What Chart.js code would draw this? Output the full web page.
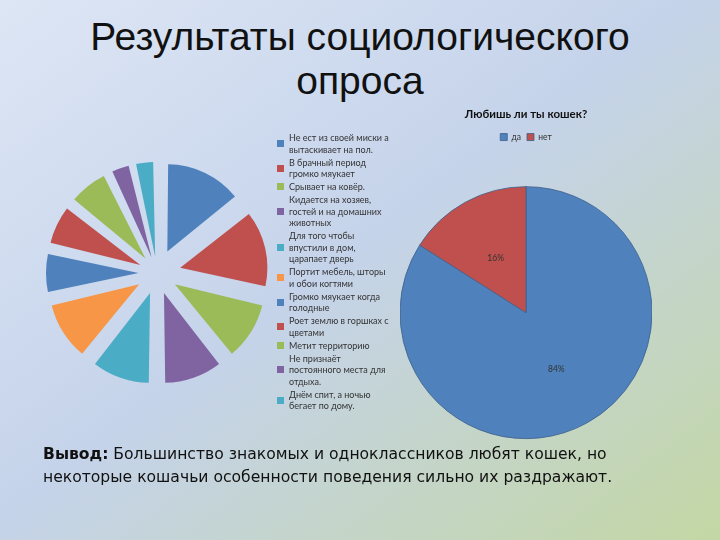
<!DOCTYPE html>
<html lang="ru">
<head>
<meta charset="utf-8">
<script src="https://cdn.jsdelivr.net/npm/chart.js@4.4.1/dist/chart.umd.min.js"></script>
<style>
  html, body { margin: 0; padding: 0; }
  body {
    width: 720px; height: 540px; position: relative; overflow: hidden;
    background: linear-gradient(to bottom right, #dde6f5 0%, #c5d3ea 48%, #c3d7a4 100%);
  }
  h1 {
    position: absolute; left: 0; top: 15px; width: 720px; margin: 0;
    font: 39px/44px "Liberation Sans", Arial, sans-serif; color: #111;
    text-align: center; font-weight: normal;
  }
  #reasons { position: absolute; left: 34px; top: 150px; width: 246px; height: 246px; }
  #legend {
    position: absolute; left: 277px; top: 132px; width: 130px;
    font: 9px/11.5px Lato, sans-serif; color: #333;
  }
  #legend .item { display: flex; align-items: center; margin-bottom: 1.5px; }
  #legend .box { width: 7px; height: 7px; flex: none; margin-right: 5px; }
  #likeWrap { position: absolute; left: 400px; top: 100px; width: 252px; height: 374px; }
  #summary {
    position: absolute; left: 43px; top: 443px; width: 670px; margin: 0;
    font: 15.6px/23px "DejaVu Sans", sans-serif; color: #111;
  }
</style>
</head>
<body>
<h1>Результаты социологического<br>опроса</h1>
<canvas id="reasons" width="246" height="246"></canvas>
<div id="legend"></div>
<div id="likeWrap"><canvas id="like"></canvas></div>
<p id="summary"><b>Вывод:</b> Большинство знакомых и одноклассников любят кошек, но<br>некоторые кошачьи особенности поведения сильно их раздражают.</p>
<script>
const reasonLabels = [
  ['Не ест из своей миски а', 'вытаскивает на пол.'],
  ['В брачный период', 'громко мяукает'],
  ['Срывает на ковёр.'],
  ['Кидается на хозяев,', 'гостей и на домашних', 'животных'],
  ['Для того чтобы', 'впустили в дом,', 'царапает дверь'],
  ['Портит мебель, шторы', 'и обои когтями'],
  ['Громко мяукает когда', 'голодные'],
  ['Роет землю в горшках с', 'цветами'],
  ['Метит территорию'],
  ['Не признаёт', 'постоянного места для', 'отдыха.'],
  ['Днём спит, а ночью', 'бегает по дому.']
]
const reasonCounts = [4, 4, 3, 3, 3, 3, 2, 2, 2, 1, 1]
const reasonColors = ['#4f81bd', '#c0504d', '#9bbb59', '#8064a2', '#4bacc6', '#f79646',
  '#4f81bd', '#c0504d', '#9bbb59', '#8064a2', '#4bacc6']

const likeLabels = ['да', 'нет']
const likeValues = [84, 16]
const likeColors = ['#4f81bd', '#c0504d']

// пустое место между кусками ~29px; Chart.js делит offset на 4 и добавляет поправку
const reasonTotal = reasonCounts.reduce((a, b) => a + b, 0)
const explode = (ctx) => {
  const c = reasonCounts[ctx.dataIndex] / reasonTotal * 2 * Math.PI
  return 29 * 4 / (2 - Math.sin(Math.min(Math.PI, c)))
}

new Chart(document.getElementById('reasons'), {
  type: 'pie',
  data: {
    labels: reasonLabels.map(l => l.join(' ')),
    datasets: [{
      data: reasonCounts,
      backgroundColor: reasonColors,
      borderWidth: 0,
      offset: explode
    }]
  },
  options: {
    responsive: false,
    animation: false,
    events: [],
    radius: 82,
    plugins: { legend: { display: false }, tooltip: { enabled: false } }
  }
})

const legend = document.getElementById('legend')
reasonLabels.forEach((lines, i) => {
  const item = document.createElement('div')
  item.className = 'item'
  item.innerHTML = '<span class="box" style="background:' + reasonColors[i] + '"></span><span>' + lines.join('<br>') + '</span>'
  legend.appendChild(item)
})

const percentLabels = {
  id: 'percentLabels',
  afterDatasetsDraw (chart) {
    const { ctx } = chart
    const meta = chart.getDatasetMeta(0)
    const total = likeValues.reduce((a, b) => a + b, 0)
    ctx.save()
    ctx.font = '8.5px Lato, sans-serif'
    ctx.fillStyle = '#333'
    ctx.textAlign = 'center'
    ctx.textBaseline = 'middle'
    meta.data.forEach((arc, i) => {
      const p = arc.tooltipPosition()
      ctx.fillText(Math.round(likeValues[i] / total * 100) + '%', p.x, p.y + 1)
    })
    ctx.restore()
  }
}

new Chart(document.getElementById('like'), {
  type: 'pie',
  data: {
    labels: likeLabels,
    datasets: [{
      data: likeValues,
      backgroundColor: likeColors,
      borderColor: '#3d5f8a',
      borderWidth: 0.8
    }]
  },
  options: {
    responsive: true,
    maintainAspectRatio: false,
    animation: false,
    events: [],
    radius: 126,
    plugins: {
      title: {
        display: true,
        text: 'Любишь ли ты кошек?',
        color: '#111',
        font: { family: 'Lato', size: 11.5, weight: 'bold' },
        padding: { top: 7, bottom: 6 }
      },
      legend: {
        position: 'top',
        labels: {
          color: '#333',
          font: { family: 'Lato', size: 8.5 },
          boxWidth: 7,
          boxHeight: 7,
          padding: 6
        }
      },
      tooltip: { enabled: false }
    }
  },
  plugins: [percentLabels]
})
</script>
</body>
</html>
